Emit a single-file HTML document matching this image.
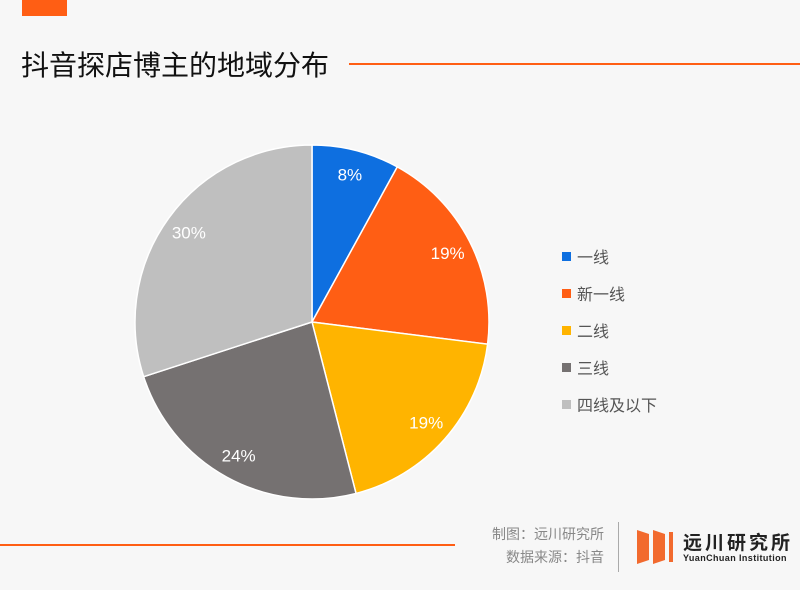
<!DOCTYPE html>
<html><head><meta charset="utf-8"><style>
body{margin:0;width:800px;height:590px;background:#f7f7f7;overflow:hidden;font-family:"Liberation Sans","Noto Sans CJK SC",sans-serif;position:relative}
.abs{position:absolute}
</style></head><body>
<div class="abs" style="left:22px;top:0;width:45px;height:16px;background:#ff5e14"></div>
<div class="abs" style="left:21px;top:44px;font-size:28px;color:#111;white-space:nowrap">抖音探店博主的地域分布</div>
<div class="abs" style="left:349px;top:63px;width:451px;height:2px;background:#ff5e14"></div>
<svg class="abs" style="left:0;top:0" width="800" height="590">
<g id="pie"></g><g id="legend"></g>
</svg>
<div class="abs" style="left:0;top:544px;width:455px;height:2px;background:#ff5e14"></div>
<div class="abs" style="left:470px;top:523px;width:134px;text-align:right;font-size:14px;line-height:23px;color:#888">制图：远川研究所<br>数据来源：抖音</div>
<div class="abs" style="left:618px;top:522px;width:1px;height:50px;background:#aaa"></div>
<svg class="abs" style="left:636px;top:530px" width="50" height="34">
<polygon points="1,0 13,4 13,30 1,34" fill="#f26a2e"/><polygon points="17,0 29,4 29,30 17,34" fill="#f26a2e"/><rect x="33" y="2" width="4" height="30" fill="#f26a2e"/>
</svg>
<div class="abs" style="left:683px;top:528px;font-size:19px;font-weight:bold;color:#222;letter-spacing:3px;white-space:nowrap">远川研究所</div>
<div class="abs" style="left:683px;top:553px;font-size:9px;font-weight:bold;color:#222;white-space:nowrap;letter-spacing:0.4px">YuanChuan Institution</div>
<script>
const categories=["一线","新一线","二线","三线","四线及以下"];
const values=[8,19,19,24,30];
const colors=["#0e6fe0","#ff5e14","#ffb400","#757171","#bfbfbf"];
const NS="http://www.w3.org/2000/svg";
const cx=312,cy=322,r=177;
const total=values.reduce((a,b)=>a+b,0);
const pie=document.getElementById('pie'),leg=document.getElementById('legend');
function pt(a,rr){return [cx+rr*Math.sin(a),cy-rr*Math.cos(a)];}
let acc=0;
values.forEach((v,i)=>{
 const a0=acc/total*2*Math.PI;acc+=v;const a1=acc/total*2*Math.PI;
 const p0=pt(a0,r),p1=pt(a1,r);
 const path=document.createElementNS(NS,'path');
 path.setAttribute('d',`M${cx},${cy}L${p0[0]},${p0[1]}A${r},${r} 0 ${a1-a0>Math.PI?1:0} 1 ${p1[0]},${p1[1]}Z`);
 path.setAttribute('fill',colors[i]);path.setAttribute('stroke','#fff');path.setAttribute('stroke-width','1.5');
 
 
 pie.appendChild(path);
 const m=pt((a0+a1)/2,r*0.86);
 const t=document.createElementNS(NS,'text');
 t.setAttribute('x',m[0]);t.setAttribute('y',m[1]+6);t.setAttribute('text-anchor','middle');
 t.setAttribute('fill','#fff');t.setAttribute('font-size','17');
 t.textContent=v+'%';
 
 
 pie.appendChild(t);
 const y=257+i*37;
 const s=document.createElementNS(NS,'rect');
 s.setAttribute('x',562);s.setAttribute('y',y-5);s.setAttribute('width',9);s.setAttribute('height',9);s.setAttribute('fill',colors[i]);
 
 
 leg.appendChild(s);
 const lt=document.createElementNS(NS,'text');
 lt.setAttribute('x',577);lt.setAttribute('y',y+6);lt.setAttribute('font-size','16');lt.setAttribute('fill','#555');
 lt.textContent=categories[i];
 
 
 leg.appendChild(lt);
});
</script>
</body></html>
